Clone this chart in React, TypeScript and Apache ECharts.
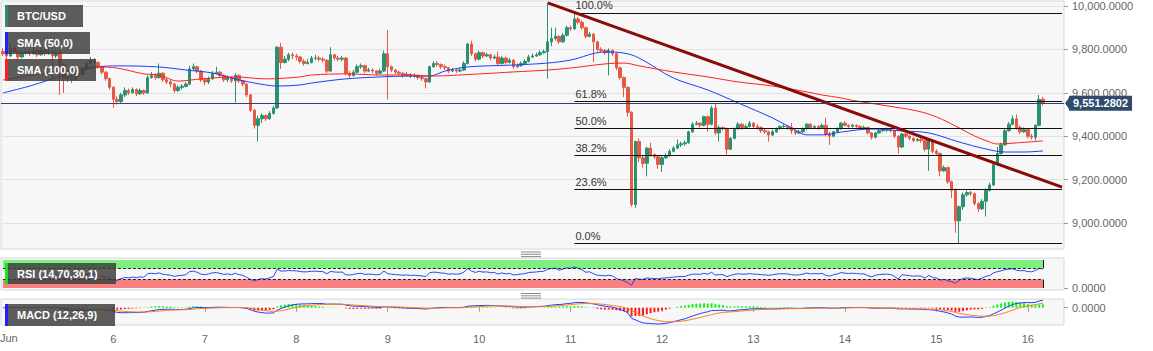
import React, { useEffect, useRef } from 'react';
import * as echarts from 'echarts';

// ---------- hourly candles, each row = [close, low, high]; open = previous close ----------
const firstOpen = 9790;
const jun04 = [[9780,9770,9805],[9770,9755,9790],[9805,9765,9830],[9790,9780,9815],[9765,9750,9795]];
const jun05 = [[9785,9760,9800],[9790,9775,9805],[9780,9770,9800],[9795,9775,9810],[9775,9765,9800],[9795,9770,9815],[9780,9770,9800],[9790,9775,9805],[9770,9660,9800],[9785,9760,9800],[9730,9590,9795],[9665,9600,9735],[9680,9650,9700],[9660,9645,9690],[9690,9655,9705],[9685,9670,9705],[9710,9680,9720],[9735,9705,9745],[9750,9730,9765],[9740,9730,9760],[9720,9710,9745],[9695,9685,9725],[9665,9655,9700],[9625,9615,9670]];
const jun06 = [[9570,9530,9630],[9560,9545,9585],[9590,9550,9600],[9610,9580,9625],[9600,9590,9620],[9615,9595,9625],[9595,9585,9620],[9610,9590,9620],[9600,9590,9615],[9670,9595,9680],[9680,9665,9695],[9670,9660,9690],[9690,9665,9735],[9660,9650,9695],[9650,9640,9670],[9640,9625,9660],[9610,9600,9645],[9625,9605,9635],[9630,9615,9640],[9640,9625,9650],[9710,9635,9725],[9720,9700,9735],[9700,9690,9725],[9660,9650,9705]];
const jun07 = [[9650,9635,9670],[9665,9640,9675],[9690,9660,9700],[9695,9685,9720],[9680,9670,9700],[9660,9650,9685],[9670,9650,9680],[9655,9645,9675],[9680,9555,9690],[9655,9645,9685],[9640,9630,9660],[9590,9580,9645],[9520,9510,9595],[9450,9435,9525],[9480,9375,9495],[9495,9460,9505],[9480,9470,9500],[9505,9475,9515],[9530,9500,9540],[9810,9525,9815],[9740,9710,9830],[9755,9735,9770],[9775,9745,9785],[9770,9755,9785]];
const jun08 = [[9765,9750,9780],[9745,9735,9770],[9735,9725,9755],[9740,9730,9755],[9760,9735,9770],[9760,9750,9775],[9755,9745,9770],[9750,9740,9765],[9700,9690,9755],[9775,9695,9810],[9760,9750,9780],[9755,9745,9770],[9760,9745,9770],[9690,9680,9765],[9680,9670,9700],[9695,9675,9705],[9720,9690,9730],[9725,9710,9735],[9700,9690,9730],[9705,9695,9715],[9700,9690,9712],[9690,9680,9705],[9700,9685,9710],[9780,9695,9795]];
const jun09 = [[9720,9570,9890],[9705,9695,9725],[9695,9685,9710],[9690,9680,9700],[9680,9670,9695],[9685,9675,9695],[9675,9668,9690],[9680,9670,9690],[9670,9660,9685],[9665,9655,9680],[9650,9620,9670],[9720,9645,9725],[9735,9715,9745],[9730,9720,9745],[9720,9710,9735],[9715,9705,9730],[9700,9690,9720],[9705,9695,9715],[9700,9692,9712],[9705,9695,9715],[9735,9700,9745],[9825,9730,9830],[9780,9770,9840],[9755,9745,9785]];
const jun10 = [[9785,9750,9795],[9770,9760,9790],[9775,9765,9785],[9760,9750,9780],[9765,9755,9775],[9735,9725,9790],[9760,9730,9770],[9740,9730,9765],[9750,9735,9760],[9720,9710,9755],[9725,9715,9735],[9735,9720,9745],[9745,9730,9755],[9765,9740,9775],[9770,9760,9780],[9775,9765,9785],[9785,9770,9795],[9790,9780,9800],[9835,9665,10014],[9850,9815,9900],[9860,9840,9900],[9835,9825,9865],[9865,9830,9875],[9900,9860,9910]];
const jun11 = [[9895,9885,9910],[9940,9890,9968],[9925,9915,9950],[9900,9890,9935],[9860,9850,9905],[9870,9855,9880],[9835,9740,9875],[9800,9790,9840],[9795,9785,9810],[9785,9775,9800],[9795,9680,9805],[9780,9770,9800],[9715,9705,9785],[9670,9660,9720],[9625,9580,9675],[9510,9490,9630],[9085,9075,9515],[9375,9070,9380],[9300,9280,9390],[9275,9255,9310],[9345,9215,9350],[9315,9305,9370],[9305,9295,9320],[9270,9250,9310]];
const jun12 = [[9300,9235,9310],[9310,9295,9320],[9330,9305,9340],[9345,9325,9355],[9360,9340,9385],[9365,9350,9375],[9370,9355,9380],[9420,9365,9425],[9455,9415,9465],[9460,9450,9470],[9450,9440,9465],[9490,9445,9495],[9455,9420,9495],[9530,9450,9540],[9415,9405,9550],[9440,9375,9450],[9435,9425,9445],[9340,9315,9440],[9390,9335,9395],[9435,9385,9440],[9455,9430,9465],[9440,9430,9460],[9445,9435,9455],[9460,9440,9470]];
const jun13 = [[9445,9435,9465],[9440,9430,9455],[9425,9415,9445],[9420,9410,9435],[9405,9375,9425],[9420,9400,9430],[9435,9415,9440],[9445,9430,9450],[9445,9435,9455],[9440,9430,9450],[9425,9410,9460],[9415,9405,9430],[9420,9410,9430],[9435,9415,9440],[9455,9430,9460],[9440,9435,9460],[9445,9435,9450],[9440,9430,9450],[9450,9435,9458],[9410,9400,9485],[9400,9360,9420],[9420,9395,9425],[9435,9415,9440],[9460,9430,9465]];
const jun14 = [[9450,9445,9470],[9445,9438,9455],[9450,9440,9458],[9445,9438,9455],[9440,9435,9450],[9440,9432,9448],[9415,9408,9445],[9395,9385,9420],[9415,9390,9420],[9425,9410,9432],[9428,9420,9435],[9430,9420,9440],[9425,9418,9435],[9400,9392,9430],[9350,9320,9405],[9410,9345,9415],[9400,9392,9415],[9390,9382,9405],[9380,9372,9395],[9385,9375,9392],[9380,9370,9392],[9340,9330,9385],[9380,9240,9390],[9330,9320,9385]];
const jun15 = [[9320,9310,9340],[9240,9215,9325],[9255,9235,9265],[9190,9180,9260],[9150,9115,9195],[9010,8955,9160],[9075,8905,9080],[9130,9060,9140],[9140,9120,9150],[9135,9125,9148],[9090,9080,9140],[9065,9050,9095],[9100,9060,9110],[9150,9030,9160],[9175,9145,9185],[9270,9170,9280],[9320,9265,9350],[9360,9315,9370],[9425,9355,9435],[9455,9420,9465],[9480,9450,9495],[9440,9430,9500],[9420,9410,9450],[9430,9415,9440]];
const jun16 = [[9400,9390,9435],[9395,9385,9410],[9450,9380,9455],[9570,9445,9590],[9551.2802,9540,9580]];

// moving averages: [candle index, price]
const sma50 = [[0,9599],[8,9636],[17,9687],[25,9719],[30,9724],[41,9719],[48,9705],[55,9691],[62,9659],[69,9636],[72,9631],[78,9636],[81,9645],[90,9664],[99,9673],[107,9677],[112,9677],[116,9700],[122,9719],[134,9728],[143,9737],[149,9751],[158,9788],[163,9783],[167,9760],[176,9668],[185,9613],[193,9553],[202,9484],[207,9438],[211,9406],[215,9406],[220,9419],[228,9433],[236,9424],[243,9415],[251,9373],[258,9341],[263,9327],[268,9327],[273,9332]];
const sma100 = [[0,9659],[8,9682],[17,9705],[25,9719],[30,9714],[37,9687],[41,9682],[46,9654],[52,9664],[61,9673],[69,9664],[78,9673],[81,9682],[90,9687],[99,9682],[107,9682],[112,9677],[125,9687],[134,9696],[143,9705],[149,9714],[158,9733],[163,9737],[167,9724],[176,9696],[185,9673],[193,9650],[202,9631],[211,9604],[215,9590],[220,9576],[223,9565],[232,9540],[240,9516],[245,9489],[251,9438],[255,9401],[259,9373],[261,9364],[266,9369],[273,9378]];

// fibonacci retracement & trend line
const fibHigh = 9968;
const fibLow = 8905;
const fibStartIdx = 150;
const fibLevels = [1, 0.618, 0.5, 0.382, 0.236, 0];
const trendStart = [143, 10014];
const trendEnd = [278, 9165];

const yTicks = [9000, 9200, 9400, 9600, 9800, 10000];
const dayTicks = ['6', '7', '8', '9', '10', '11', '12', '13', '14', '15', '16'];
const START_DAY = 4;
const START_HOUR = 19;
const N_CATS = 279;

const UP = '#2c916e';
const DOWN = '#e45a45';
const PRICE_BOX = '#2f4a6c';
const FONT = "'Liberation Sans', Arial, sans-serif";

const cats = Array.from({ length: N_CATS }, (_, i) => {
  const t = START_HOUR + i;
  return `${START_DAY + Math.floor(t / 24)}|${t % 24}`;
});

function buildCandles() {
  const days = [jun04, jun05, jun06, jun07, jun08, jun09, jun10, jun11, jun12, jun13, jun14, jun15, jun16];
  const out: number[][] = [];
  let prev = firstOpen;
  for (const d of days) for (const [c, l, h] of d) { out.push([prev, c, l, h]); prev = c; }
  return out;
}

function ema(arr: number[], p: number) {
  const k = 2 / (p + 1);
  const out: number[] = [];
  let e = arr[0];
  arr.forEach((v, i) => { e = i === 0 ? v : v * k + e * (1 - k); out.push(e); });
  return out;
}

function rsi(c: number[], p: number) {
  const out: (number | null)[] = c.map(() => null);
  let g = 0, l = 0;
  for (let i = 1; i <= p; i++) { const d = c[i] - c[i - 1]; if (d > 0) g += d; else l -= d; }
  g /= p; l /= p;
  out[p] = l === 0 ? 100 : 100 - 100 / (1 + g / l);
  for (let i = p + 1; i < c.length; i++) {
    const d = c[i] - c[i - 1];
    g = (g * (p - 1) + Math.max(d, 0)) / p;
    l = (l * (p - 1) + Math.max(-d, 0)) / p;
    out[i] = l === 0 ? 100 : 100 - 100 / (1 + g / l);
  }
  return out;
}

const fmt = (v: number) => v.toLocaleString('en-US', { minimumFractionDigits: 4, maximumFractionDigits: 4 });

const candles = buildCandles();
const closes = candles.map((d) => d[1]);
const lastClose = closes[closes.length - 1];

function buildOption() {
  const last = candles.length - 1;
  const rsiData = rsi(closes, 14);
  const e12 = ema(closes, 12);
  const e26 = ema(closes, 26);
  const macd = e12.map((v, i) => v - e26[i]);
  const signal = ema(macd, 9);
  const hist = macd.map((v, i) => v - signal[i]);
  const mMin = Math.min(...macd, ...signal) * 1.06;
  const mMax = -mMin * (8.7 / 17.3);
  const hMin = Math.min(...hist) / 0.5;
  const hMax = -hMin * (8.7 / 17.3);

  const gridBase = { left: 1, right: 89, show: true, backgroundColor: '#f7f7f7', borderColor: '#d3d8e3', borderWidth: 1 };
  const tickStyle = { color: '#9a9a9a' };
  const labelStyle = { color: '#666', fontSize: 11, fontFamily: FONT };
  const showDay = (_i: number, v: string) => { const [d, h] = v.split('|'); return h === '0' && dayTicks.includes(d); };

  const fibLines = fibLevels.map((f) => {
    const p = fibLow + (fibHigh - fibLow) * f;
    return [
      { coord: [fibStartIdx, p], lineStyle: { color: '#111', width: 1, type: 'solid' },
        label: { show: true, position: 'insideStartTop', formatter: `${(f * 100).toFixed(1)}%`, color: '#333', fontSize: 11, fontFamily: FONT, distance: [1, 2] } },
      { coord: [N_CATS - 1, p] },
    ];
  });

  let gid = 0;
  const bar = (x: number, y: number, w: number, h: number, color: string) => ({ id: `g${gid++}`, type: 'rect', z: 100, shape: { x, y, width: w, height: h }, style: { fill: color }, silent: true });
  const txt = (x: number, y: number, text: string, color = '#fff', weight = 'bold') => ({
    id: `g${gid++}`, type: 'text', x, y, z: 101, silent: true,
    style: { text, fill: color, font: `${weight} 11px ${FONT}`, align: 'left', verticalAlign: 'middle', textAlign: 'left', textVerticalAlign: 'middle' },
  });
  const box = (y: number, w: number, h: number, accent: string, text: string) => [
    bar(5, y, w, h, 'rgba(62,62,62,0.84)'),
    bar(5, y, 3, h, accent),
    txt(17, y + h / 2, text),
  ];
  const handle = (y: number) => [0, 2.3, 4.6].map((dy) => ({
    id: `g${gid++}`, type: 'line', silent: true, z: 100, shape: { x1: 521, y1: y + dy, x2: 541, y2: y + dy }, style: { stroke: '#8a8a8a', lineWidth: 1 },
  }));

  return {
    animation: false,
    backgroundColor: '#ffffff',
    textStyle: { fontFamily: FONT },
    grid: [
      { ...gridBase, top: 1, height: 248 },
      { ...gridBase, top: 258, height: 32 },
      { ...gridBase, top: 299, height: 26 },
    ],
    xAxis: [
      { type: 'category', gridIndex: 0, data: cats, show: false },
      { type: 'category', gridIndex: 1, data: cats, show: false },
      {
        type: 'category', gridIndex: 2, data: cats,
        axisLine: { show: false },
        axisTick: { show: true, interval: showDay, alignWithLabel: true, length: 4, lineStyle: tickStyle },
        axisLabel: { interval: showDay, formatter: (v: string) => v.split('|')[0], margin: 8, ...labelStyle },
        splitLine: { show: false },
      },
    ],
    yAxis: [
      {
        type: 'value', gridIndex: 0, position: 'right', min: 8880, max: 10023,
        axisLine: { show: false },
        axisTick: { show: true, customValues: yTicks, length: 4, lineStyle: tickStyle },
        axisLabel: { customValues: yTicks, formatter: fmt, margin: 8, ...labelStyle },
        splitLine: { show: true, lineStyle: { color: '#e2e2e2', width: 1 } },
      },
      {
        type: 'value', gridIndex: 1, position: 'right', min: -7.1, max: 107.1,
        axisLine: { show: false },
        axisTick: { show: true, customValues: [0], length: 4, lineStyle: tickStyle },
        axisLabel: { customValues: [0], formatter: () => '0.0000', margin: 8, ...labelStyle },
        splitLine: { show: false },
      },
      {
        type: 'value', gridIndex: 2, position: 'right', min: mMin, max: mMax,
        axisLine: { show: false },
        axisTick: { show: true, customValues: [0], length: 4, lineStyle: tickStyle },
        axisLabel: { customValues: [0], formatter: () => '0.0000', margin: 8, ...labelStyle },
        splitLine: { show: false },
      },
      { type: 'value', gridIndex: 2, min: hMin, max: hMax, show: false, splitLine: { show: false } },
    ],
    series: [
      {
        type: 'candlestick', xAxisIndex: 0, yAxisIndex: 0, data: candles, barWidth: 3,
        itemStyle: { color: UP, color0: DOWN, borderColor: UP, borderColor0: DOWN, borderWidth: 1 },
        markLine: {
          silent: true, symbol: ['none', 'none'], animation: false, label: { show: false },
          data: [
            ...fibLines,
            [{ coord: trendStart, lineStyle: { color: '#8b0a0a', width: 3, type: 'solid' } }, { coord: trendEnd }],
            {
              yAxis: lastClose, lineStyle: { color: '#2f4468', width: 1, type: 'solid' },
              label: { show: true, position: 'end', formatter: fmt(lastClose), color: '#fff', fontWeight: 'bold', fontSize: 11, fontFamily: FONT, backgroundColor: PRICE_BOX, padding: [2, 4, 2, 4], distance: 5 },
            },
          ],
        },
      },
      { type: 'line', xAxisIndex: 0, yAxisIndex: 0, data: sma50, showSymbol: false, smooth: 0.35, lineStyle: { color: '#1f3cff', width: 1 }, z: 3 },
      { type: 'line', xAxisIndex: 0, yAxisIndex: 0, data: sma100, showSymbol: false, smooth: 0.35, lineStyle: { color: '#ff1f1f', width: 1 }, z: 3 },
      {
        type: 'line', xAxisIndex: 1, yAxisIndex: 1, data: rsiData, showSymbol: false, lineStyle: { color: '#2a45ff', width: 1 }, z: 4,
        markArea: {
          silent: true,
          data: [
            [{ coord: [0, 70], itemStyle: { color: '#7ff07f', opacity: 1 } }, { coord: [last, 100] }],
            [{ coord: [0, 0], itemStyle: { color: '#f88080', opacity: 1 } }, { coord: [last, 30] }],
          ],
        },
        markLine: {
          silent: true, symbol: ['none', 'none'], label: { show: false },
          data: [
            [{ coord: [0, 70], lineStyle: { color: '#222', width: 1, type: [3, 2] } }, { coord: [last, 70] }],
            [{ coord: [0, 30], lineStyle: { color: '#222', width: 1, type: [3, 2] } }, { coord: [last, 30] }],
            [{ coord: [last, 70], lineStyle: { color: '#111', width: 1, type: 'solid' } }, { coord: [last, 100] }],
            [{ coord: [last, 0], lineStyle: { color: '#111', width: 1, type: 'solid' } }, { coord: [last, 30] }],
          ],
        },
      },
      {
        type: 'bar', xAxisIndex: 2, yAxisIndex: 3, barWidth: 2,
        data: hist.map((v) => ({ value: v, itemStyle: { color: v >= 0 ? '#19f019' : '#ff1a1a' } })),
      },
      { type: 'line', xAxisIndex: 2, yAxisIndex: 2, data: macd, showSymbol: false, lineStyle: { color: '#1f3cff', width: 1 }, z: 4 },
      { type: 'line', xAxisIndex: 2, yAxisIndex: 2, data: signal, showSymbol: false, lineStyle: { color: '#ff7f1f', width: 1 }, z: 4 },
    ],
    graphic: [
      ...box(5, 78, 22, '#2e8b6e', 'BTC/USD'),
      ...box(32, 85, 22, '#1f1fff', 'SMA (50,0)'),
      ...box(59, 91, 22, '#ff1f1f', 'SMA (100,0)'),
      ...box(263, 111, 21, '#19e019', 'RSI (14,70,30,1)'),
      ...box(304, 110, 22, '#1f1fff', 'MACD (12,26,9)'),
      ...handle(252),
      ...handle(293.5),
      txt(0, 338, 'Jun', '#666', 'normal'),
    ],
  };
}

export default function App() {
  const ref = useRef<HTMLDivElement>(null);
  useEffect(() => {
    if (!ref.current) return;
    const chart = echarts.init(ref.current, null, { renderer: 'svg' });
    chart.setOption(buildOption() as any);
    // small pointer in front of the last-price label, placed through the axis scale
    const py = chart.convertToPixel({ yAxisIndex: 0 }, lastClose) as number;
    const gx = chart.convertToPixel({ xAxisIndex: 0 }, N_CATS - 1) as number;
    const rightEdge = gx + (gx - (chart.convertToPixel({ xAxisIndex: 0 }, N_CATS - 2) as number)) / 2;
    chart.setOption({
      graphic: [{
        id: 'priceArrow', type: 'polygon', z: 100, silent: true,
        shape: { points: [[rightEdge + 1, py], [rightEdge + 6, py - 7], [rightEdge + 6, py + 7]] },
        style: { fill: PRICE_BOX },
      }],
    });
    return () => chart.dispose();
  }, []);
  return <div ref={ref} style={{ position: 'absolute', left: 0, top: 0, width: 1153, height: 351 }} />;
}
